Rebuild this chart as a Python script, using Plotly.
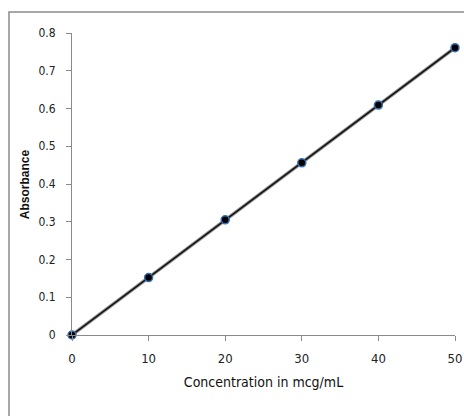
import plotly.graph_objects as go

concentration = [0, 10, 20, 30, 40, 50]
absorbance = [0.0, 0.152, 0.305, 0.456, 0.609, 0.761]
x_ticks = [0, 10, 20, 30, 40, 50]
y_ticks = [0, 0.1, 0.2, 0.3, 0.4, 0.5, 0.6, 0.7, 0.8]
y_tick_labels = ["0", "0.1", "0.2", "0.3", "0.4", "0.5", "0.6", "0.7", "0.8"]
x_title = "Concentration in mcg/mL"
y_title = "Absorbance"

narrow = "DejaVu Sans Condensed, sans-serif"
tick_font = dict(family=narrow, size=12, color="#222")

fig = go.Figure()
fig.add_trace(go.Scatter(x=concentration, y=absorbance, mode="lines",
                         line=dict(color="#9a9a9a", width=3.5), hoverinfo="skip", showlegend=False))
fig.add_trace(go.Scatter(x=concentration, y=absorbance, mode="lines+markers",
                         line=dict(color="#111", width=1.5),
                         marker=dict(size=8, color="#000", line=dict(color="#3a6fb5", width=1.5)),
                         showlegend=False, cliponaxis=False))

fig.update_layout(
    width=464, height=416,
    margin=dict(l=72, r=9, t=33, b=81),
    paper_bgcolor="white", plot_bgcolor="white",
    xaxis=dict(range=[0, 50], tickvals=x_ticks, showgrid=False, zeroline=False,
               showline=True, linecolor="#8a8a8a", linewidth=1,
               ticks="outside", ticklen=5, tickcolor="#8a8a8a",
               tickfont=dict(family=narrow, size=13, color="#222"), ticklabelstandoff=6, automargin=False,
               title=dict(text=x_title,
                          font=dict(family=narrow, size=14, color="#111"),
                          standoff=12)),
    yaxis=dict(range=[0, 0.8], tickvals=y_ticks, ticktext=y_tick_labels, showgrid=False, zeroline=False,
               showline=True, linecolor="#8a8a8a", linewidth=1,
               ticks="outside", ticklen=5, tickcolor="#8a8a8a",
               tickfont=tick_font, ticklabelstandoff=8, automargin=False),
    annotations=[dict(text="<b>" + y_title + "</b>", xref="paper", yref="paper",
                      x=-0.122, y=0.5, xanchor="center", yanchor="middle", textangle=-90,
                      showarrow=False,
                      font=dict(family="Liberation Sans, Arial, sans-serif", size=12, color="#111"))],
    shapes=[dict(type="rect", xref="paper", yref="paper",
                 x0=-0.1645, x1=1.2, y0=-0.4, y1=1.0695,
                 line=dict(color="#8a8a8a", width=1.5), fillcolor="rgba(0,0,0,0)", layer="below")],
)

fig.write_html("out.html")
